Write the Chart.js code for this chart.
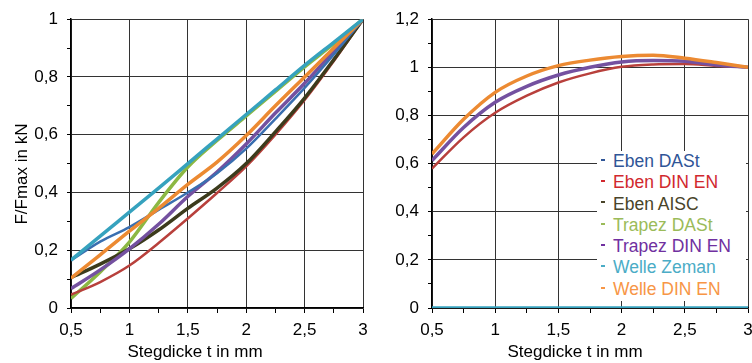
<!DOCTYPE html>
<html>
<head>
<meta charset="utf-8">
<script src="https://cdn.jsdelivr.net/npm/chart.js@4/dist/chart.umd.min.js"></script>
<style>
  body { margin:0; width:752px; height:363px; overflow:hidden; position:relative; background:#fff; font-family:"Liberation Sans", Arial, sans-serif; }
  .box { position:absolute; top:0; }
  #legend { position:absolute; left:597px; top:151px; width:149px; height:150px; background:#fff; font-size:17.5px; }
  #legend div { height:21.3px; line-height:21.3px; white-space:nowrap; }
  #legend span.dash { display:inline-block; width:4px; height:2px; margin:0 8px 5px 4px; vertical-align:middle; }
</style>
</head>
<body>
<div class="box" style="left:0;width:380px;height:363px"><canvas id="left" width="380" height="363"></canvas></div>
<div class="box" style="left:380px;width:390px;height:363px"><canvas id="right" width="390" height="363"></canvas></div>
<div id="legend"></div>
<script>
// Stegdicke t in mm
var thickness = [0.5, 0.75, 1, 1.25, 1.5, 1.75, 2, 2.25, 2.5, 2.75, 3];

var xTickLabels = ['0,5', '1', '1,5', '2', '2,5', '3'];
var leftYTickLabels = ['0', '0,2', '0,4', '0,6', '0,8', '1'];
var rightYTickLabels = ['0', '0,2', '0,4', '0,6', '0,8', '1', '1,2'];

var seriesNames = ['Eben DASt', 'Eben DIN EN', 'Eben AISC', 'Trapez DASt', 'Trapez DIN EN', 'Welle Zeman', 'Welle DIN EN'];
var lineColors = ['#3a6fb0', '#b8403c', '#3c3b1c', '#8cb843', '#7451a0', '#36a2be', '#ec8a32'];
var textColors = ['#2f5597', '#d1282e', '#494429', '#9bbb59', '#7030a0', '#4bacc6', '#f79646'];

// left chart: F/Fmax
var ebenDAStL   = [0.165, 0.23, 0.28, 0.34, 0.40, 0.467, 0.552, 0.655, 0.762, 0.878, 1];
var ebenDINL    = [0.046, 0.09, 0.147, 0.225, 0.31, 0.398, 0.49, 0.60, 0.72, 0.855, 1];
var ebenAISCL   = [0.105, 0.152, 0.205, 0.27, 0.345, 0.415, 0.50, 0.61, 0.727, 0.86, 1];
var trapezDAStL = [0.033, 0.125, 0.228, 0.365, 0.488, 0.58, 0.665, 0.75, 0.835, 0.915, 1];
var trapezDINL  = [0.067, 0.132, 0.205, 0.29, 0.386, 0.471, 0.568, 0.675, 0.778, 0.89, 1];
var welleZemanL = [0.166, 0.249, 0.332, 0.415, 0.50, 0.585, 0.67, 0.755, 0.84, 0.92, 1];
var welleDINL   = [0.103, 0.184, 0.266, 0.345, 0.428, 0.505, 0.597, 0.70, 0.80, 0.90, 1];

// right chart
var ebenDINR    = [0.579, 0.709, 0.811, 0.882, 0.937, 0.975, 1.002, 1.012, 1.014, 1.006, 1];
var trapezDINR  = [0.613, 0.75, 0.855, 0.921, 0.968, 1.0, 1.022, 1.028, 1.025, 1.01, 1];
var welleZemanR = [0, 0, 0, 0, 0, 0, 0, 0, 0, 0, 0];
var welleDINR   = [0.64, 0.784, 0.896, 0.964, 1.007, 1.03, 1.045, 1.05, 1.038, 1.02, 1];

var xTitle = 'Stegdicke t in mm';
var yTitle = 'F/Fmax in kN';

var font = { family: '"Liberation Sans", Arial, sans-serif', size: 17 };

function pts(vals) {
  return thickness.map(function (t, i) { return { x: t, y: vals[i] }; });
}

function ds(idx, vals, width, order) {
  return {
    label: seriesNames[idx],
    data: pts(vals),
    borderColor: lineColors[idx],
    backgroundColor: lineColors[idx],
    borderWidth: width,
    pointRadius: 0,
    cubicInterpolationMode: 'monotone',
    fill: false,
    order: order
  };
}

function xScale() {
  return {
    type: 'linear', min: 0.5, max: 3,
    ticks: {
      stepSize: 0.25, autoSkip: false, maxRotation: 0, color: '#000', font: font, padding: 7,
      callback: function (v) {
        var k = Math.round((v - 0.5) / 0.25);
        return k % 2 === 0 ? xTickLabels[k / 2] : '';
      }
    },
    grid: {
      color: function (c) {
        var k = Math.round((c.tick.value - 0.5) / 0.25);
        return k % 2 === 0 ? '#333' : 'rgba(0,0,0,0)';
      },
      tickColor: '#000', tickLength: 5
    },
    border: { color: '#000', width: 1.5 },
    afterFit: function (s) { s.height = 55; }
  };
}

function yScale(max, labels, width) {
  return {
    type: 'linear', min: 0, max: max,
    ticks: {
      stepSize: 0.1, autoSkip: false, color: '#000', font: font, padding: 9,
      callback: function (v) {
        var k = Math.round(v / 0.1);
        return k % 2 === 0 ? labels[k / 2] : '';
      }
    },
    grid: {
      color: function (c) {
        var k = Math.round(c.tick.value / 0.1);
        return k % 2 === 0 ? '#333' : 'rgba(0,0,0,0)';
      },
      tickColor: '#000', tickLength: 4
    },
    border: { color: '#000', width: 1.5 },
    afterFit: function (s) { s.width = width; }
  };
}

// axis titles sit a bit off-centre in the original, so draw them by hand
function titlePlugin(xPos, yPos) {
  return {
    id: 'axisTitles',
    afterDraw: function (chart) {
      var ctx = chart.ctx;
      ctx.save();
      ctx.fillStyle = '#000';
      ctx.font = font.size + 'px ' + font.family;
      ctx.textAlign = 'center';
      ctx.textBaseline = 'middle';
      ctx.fillText(xTitle, xPos[0], xPos[1]);
      if (yPos) {
        ctx.translate(yPos[0], yPos[1]);
        ctx.rotate(-Math.PI / 2);
        ctx.fillText(yTitle, 0, 0);
      }
      ctx.restore();
    }
  };
}

Chart.defaults.animation = false;

new Chart(document.getElementById('left'), {
  type: 'line',
  data: {
    datasets: [
      ds(5, welleZemanL, 3.5, 1),
      ds(6, welleDINL, 3.5, 2),
      ds(0, ebenDAStL, 2.5, 3),
      ds(4, trapezDINL, 3.5, 4),
      ds(2, ebenAISCL, 3.5, 5),
      ds(1, ebenDINL, 2.5, 6),
      ds(3, trapezDAStL, 3.5, 7)
    ]
  },
  options: {
    responsive: false,
    devicePixelRatio: 1,
    layout: { padding: { left: 0, right: 17, top: 15, bottom: 0 } },
    plugins: { legend: { display: false }, tooltip: { enabled: false } },
    scales: { x: xScale(), y: yScale(1, leftYTickLabels, 71) }
  },
  plugins: [titlePlugin([195, 352], [22, 174])]
});

new Chart(document.getElementById('right'), {
  type: 'line',
  data: {
    datasets: [
      ds(5, welleZemanR, 3.5, 1),
      ds(6, welleDINR, 3.5, 2),
      ds(4, trapezDINR, 3.5, 3),
      ds(1, ebenDINR, 2.5, 4)
    ]
  },
  options: {
    responsive: false,
    devicePixelRatio: 1,
    layout: { padding: { left: 0, right: 22, top: 15, bottom: 0 } },
    plugins: { legend: { display: false }, tooltip: { enabled: false } },
    scales: { x: xScale(), y: yScale(1.2, rightYTickLabels, 52) }
  },
  plugins: [titlePlugin([195, 352], null)]
});

// legend inside the right plot
var leg = document.getElementById('legend');
seriesNames.forEach(function (name, i) {
  var row = document.createElement('div');
  row.style.color = textColors[i];
  row.innerHTML = '<span class="dash" style="background:' + textColors[i] + '"></span>' + name;
  leg.appendChild(row);
});
</script>
</body>
</html>
